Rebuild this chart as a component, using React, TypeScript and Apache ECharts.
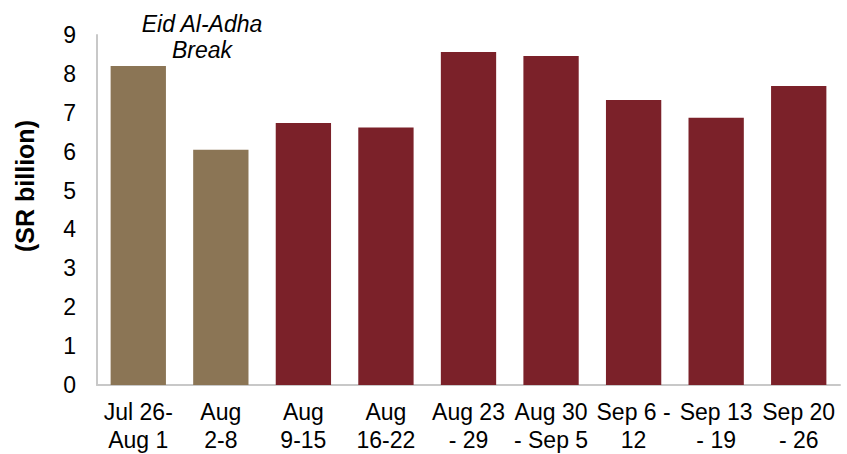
import React, { useEffect, useRef } from "react";
import * as echarts from "echarts";

const categories = [
  "Jul 26-\nAug 1",
  "Aug\n2-8",
  "Aug\n9-15",
  "Aug\n16-22",
  "Aug 23\n- 29",
  "Aug 30\n- Sep 5",
  "Sep 6 -\n12",
  "Sep 13\n- 19",
  "Sep 20\n- 26",
];
const values = [8.2, 6.05, 6.74, 6.62, 8.56, 8.46, 7.33, 6.87, 7.69];
const isEidBreak = [true, true, false, false, false, false, false, false, false];
const yTicks = { min: 0, max: 9, interval: 1 };
const yAxisName = "(SR billion)";
const annotation = "Eid Al-Adha\nBreak";

const TAN = "#8B7555";
const MAROON = "#7B2129";
const FONT = "Liberation Sans, Arial, sans-serif";

export default function App() {
  const ref = useRef<HTMLDivElement>(null);
  useEffect(() => {
    if (!ref.current) return;
    const chart = echarts.init(ref.current, undefined, { renderer: "svg" });
    chart.setOption({
      animation: false,
      backgroundColor: "#fff",
      grid: { left: 97, right: 7, top: 35, bottom: 68 },
      xAxis: {
        type: "category",
        data: categories,
        axisLine: { lineStyle: { color: "#C8C8C8", width: 2 } },
        axisTick: { show: false },
        axisLabel: {
          interval: 0,
          color: "#000",
          fontFamily: FONT,
          fontSize: 23,
          lineHeight: 28,
          margin: 13,
        },
      },
      yAxis: {
        type: "value",
        min: yTicks.min,
        max: yTicks.max,
        interval: yTicks.interval,
        axisLine: { show: true, lineStyle: { color: "#C8C8C8", width: 2 } },
        axisTick: { show: false },
        splitLine: { show: false },
        axisLabel: { color: "#000", fontFamily: FONT, fontSize: 23, margin: 21 },
      },
      series: [
        {
          type: "bar",
          barCategoryGap: "33%",
          data: values.map((v, i) => ({
            value: v,
            itemStyle: { color: isEidBreak[i] ? TAN : MAROON },
          })),
        },
      ],
      graphic: [
        {
          type: "text",
          x: 202,
          y: 11,
          style: {
            text: annotation,
            fill: "#000",
            fontFamily: FONT,
            fontSize: 23,
            fontStyle: "italic",
            align: "center",
            verticalAlign: "top",
            lineHeight: 26,
          },
        },
        {
          type: "text",
          x: 25,
          y: 186,
          rotation: Math.PI / 2,
          style: {
            text: yAxisName,
            fill: "#000",
            fontFamily: FONT,
            fontSize: 25,
            fontWeight: "bold",
            align: "center",
            verticalAlign: "middle",
          },
        },
      ],
    });
    return () => chart.dispose();
  }, []);
  return (
    <div
      ref={ref}
      style={{ position: "fixed", left: 0, top: 0, width: 847, height: 454 }}
    />
  );
}
